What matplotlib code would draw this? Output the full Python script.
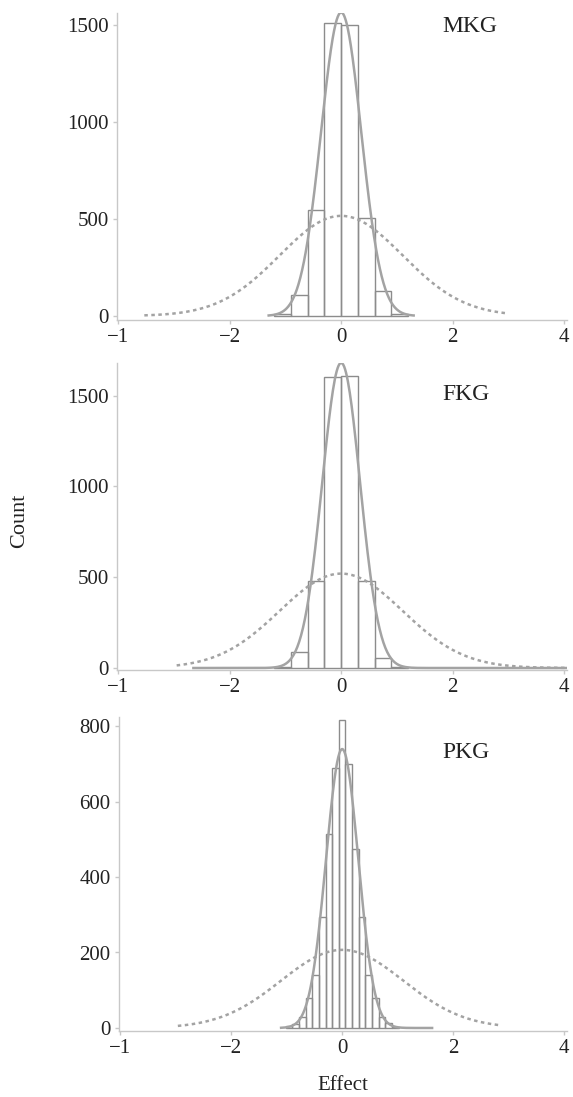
import numpy as np
import matplotlib.pyplot as plt

plt.rcParams['font.family'] = ['Liberation Serif', 'DejaVu Serif']

# histogram data
mkg_edges = [-1.2, -0.9, -0.6, -0.3, 0.0, 0.3, 0.6, 0.9]
mkg_counts = [8, 106, 545, 1512, 1498, 503, 128, 8]
fkg_edges = [-1.2, -0.9, -0.6, -0.3, 0.0, 0.3, 0.6, 0.9]
fkg_counts = [4, 87, 481, 1601, 1608, 481, 56, 4]
pkg_edges = [-1.02, -0.90, -0.78, -0.66, -0.54, -0.42, -0.30, -0.18, -0.06,
             0.06, 0.18, 0.30, 0.42, 0.54, 0.66, 0.78, 0.90]
pkg_counts = [5, 10, 30, 80, 140, 295, 515, 690, 815, 700, 475, 295, 140, 80, 30, 12, 2]

# fitted normal curves: (peak height, sd, x from, x to)
mkg_fit = (1565, 0.36, -1.3, 1.3)
fkg_fit = (1681, 0.34, -2.65, 4.05)
pkg_fit = (739, 0.29, -1.1, 1.62)
mkg_prior = (516, 1.1, -3.53, 2.96)
fkg_prior = (520, 1.1, -2.95, 4.05)
pkg_prior = (207, 1.1, -2.96, 2.82)

labels = ["MKG", "FKG", "PKG"]
label_y = [27, 395, 752]
bin_widths = [0.3, 0.3, 0.12]
x_ticks = [-4, -2, 0, 2, 4]
x_ticklabels = ["\u22121", "\u22122", "0", "2", "4"]
y_ticks = [[0, 500, 1000, 1500], [0, 500, 1000, 1500], [0, 200, 400, 600, 800]]
y_lims = [(-21, 1562), (-11, 1680), (-8, 824)]

W, H = 573, 1097
fig = plt.figure(figsize=(W / 100, H / 100), dpi=100)

# panel boxes in pixels: left, top, right, bottom
boxes = [(117, 13, 567, 320), (117, 363, 567, 670), (119, 717, 567, 1031)]

edges_all = [mkg_edges, fkg_edges, pkg_edges]
counts_all = [mkg_counts, fkg_counts, pkg_counts]
fits = [mkg_fit, fkg_fit, pkg_fit]
priors = [mkg_prior, fkg_prior, pkg_prior]

spine_col = "#c8c8c8"
bar_col = "#8c8c8c"
curve_col = "#a3a3a3"
text_col = "#222222"


def normal_curve(ax, params, **kw):
    peak, sd, x0, x1 = params
    xs = np.linspace(x0, x1, 400)
    ax.plot(xs, peak * np.exp(-xs ** 2 / (2 * sd ** 2)), **kw)


for i in range(3):
    l, t, r, b = boxes[i]
    ax = fig.add_axes([l / W, 1 - b / H, (r - l) / W, (b - t) / H])

    ax.bar(edges_all[i], counts_all[i], width=bin_widths[i], align='edge',
           fill=False, edgecolor=bar_col, linewidth=1.0, zorder=2)
    normal_curve(ax, priors[i], color=curve_col, linestyle=(0, (1.4, 1.4)),
                 linewidth=1.8, zorder=3)
    normal_curve(ax, fits[i], color=curve_col, linewidth=1.8, zorder=4)

    ax.set_xlim(-4.02, 4.05)
    ax.set_ylim(*y_lims[i])
    ax.set_xticks(x_ticks)
    ax.set_xticklabels(x_ticklabels)
    ax.set_yticks(y_ticks[i])

    for s in ["top", "right"]:
        ax.spines[s].set_visible(False)
    for s in ["left", "bottom"]:
        ax.spines[s].set_color(spine_col)
        ax.spines[s].set_linewidth(1.0)
    ax.tick_params(axis='both', colors=spine_col, length=3, width=1.0,
                   labelcolor=text_col, labelsize=15)
    ax.tick_params(axis='x', pad=3)
    ax.tick_params(axis='y', pad=3)

    ax.text((442 - l) / (r - l), 1 - (label_y[i] - t) / (b - t),
            labels[i], transform=ax.transAxes, fontsize=17,
            color=text_col, ha='left', va='center')

fig.text(20 / W, 1 - 521 / H, "Count", rotation=90, fontsize=16,
         color=text_col, ha='center', va='center')
fig.text(343 / W, 1 - 1086 / H, "Effect", fontsize=15,
         color=text_col, ha='center', va='center')

fig.savefig("out.png", dpi=100)
